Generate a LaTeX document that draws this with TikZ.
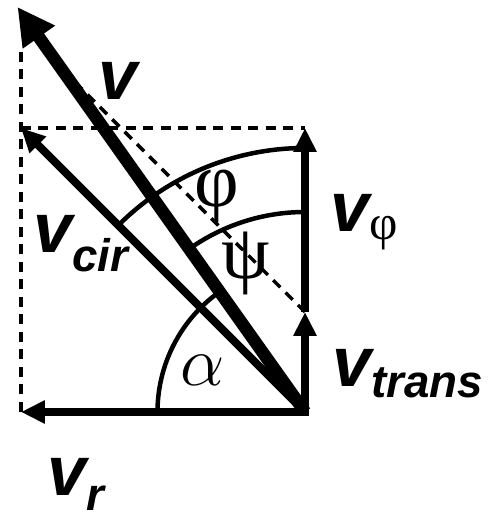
\RequirePackage{fix-cm}
\documentclass[tikz,border=0pt]{standalone}
\usepackage{fontspec}
\setmainfont{Liberation Sans}
\newfontfamily\grk{Liberation Serif}
\usetikzlibrary{arrows.meta,calc}

\begin{document}
\begin{tikzpicture}[>={Triangle[length=0.48cm,width=0.44cm]},
 vec/.style={->,line width=0.16cm},
 big/.style={line width=0.25cm,-{Triangle[length=0.74cm,width=0.74cm]}},
 aux/.style={dash pattern=on 0.2cm off 0.15cm,line width=0.07cm},
 ang/.style={line width=0.09cm},
 lb/.style={anchor=base west,inner sep=0pt,font=\fontsize{40}{40}\selectfont\bfseries\itshape},
 gr/.style={inner sep=0pt,font=\fontsize{44}{44}\selectfont\grk}]
\useasboundingbox (-6.1,-2.22) rectangle (3.92,8.24);
\coordinate (O) at (0,0);
\coordinate (vr) at (-5.68,0);
\coordinate (vt) at (0,2.0);
\coordinate (vp) at (0,5.68);
\coordinate (vc) at (-5.68,5.68);
\coordinate (v) at (-5.75,8.1);
\coordinate (top) at (-5.68,7.34);
% dashed construction
\draw[aux] (vr) -- (top);
\draw[aux] (vc) -- (vp);
\draw[aux] (vt) -- ($(O)!0.85!(v)$);
% angles
\draw[ang] (O) ++(180:2.95) arc[start angle=180,end angle=125.4,radius=2.95];
\draw[ang] (O) ++(125.4:4.0) arc[start angle=125.4,end angle=90,radius=4.0];
\draw[ang] (O) ++(135:5.28) arc[start angle=135,end angle=90,radius=5.28];
% vectors
\draw[vec,line cap=rect] (O) -- (vr);
\draw[vec,line cap=rect] (O) -- (vt);
\draw[vec] (vt) -- (vp);
\draw[vec] (O) -- (vc);
\draw[big] (O) -- (v);
% labels
\node[lb] (lv) at (-4.14,6.24) {v};
\node[lb] (lvc) at (-5.44,3.18) {v\raisebox{-0.38cm}{\fontsize{26}{26}\selectfont cir}};
\node[lb] (lvp) at (0.5,3.6) {v\raisebox{-0.16cm}{\fontsize{28}{28}\selectfont\grk\mdseries\upshape φ}};
\node[lb] (lvt) at (0.54,0.5) {v\raisebox{-0.22cm}{\fontsize{26}{26}\selectfont trans}};
\node[lb] (lvr) at (-5.16,-1.66) {v\raisebox{-0.3cm}{\fontsize{26}{26}\selectfont r}};
\node[gr] (phi) at (-1.76,4.3) {φ};
\node[gr] (psi) at (-1.18,2.98) {ψ};
\node[inner sep=0pt,font=\fontsize{40}{40}\selectfont] (alf) at (-2.04,0.84) {$\alpha$};
\end{tikzpicture}
\end{document}
